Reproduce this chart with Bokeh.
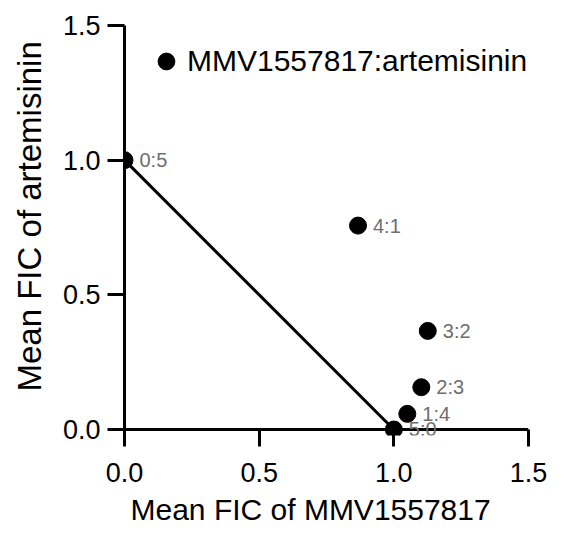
from bokeh.plotting import figure
from bokeh.models import (ColumnDataSource, Legend, LegendItem, Range1d, FixedTicker,
                          LabelSet, Title, Span)
from bokeh.embed import file_html
from bokeh.resources import INLINE
from bokeh.core.properties import value

# ---- data ----
ratios = ["0:5", "4:1", "3:2", "2:3", "1:4", "5:0"]
fic_mmv = [0.0, 0.867, 1.126, 1.102, 1.050, 1.0]
fic_art = [1.0, 0.757, 0.366, 0.157, 0.058, 0.0]
additivity_x = [0.0, 1.0]
additivity_y = [1.0, 0.0]
tick_values = [0.0, 0.5, 1.0, 1.5]
tick_labels = ["0.0", "0.5", "1.0", "1.5"]
series_name = "MMV1557817:artemisinin"
x_title = "Mean FIC of MMV1557817"
y_title = "Mean FIC of artemisinin"

FONT = "Liberation Sans"
Y_START = -0.0223   # small room below y = 0 so the "5:0" label is not cut

p = figure(width=567, height=533, output_backend="svg", toolbar_location=None,
           x_range=Range1d(0, 1.5), y_range=Range1d(Y_START, 1.5),
           min_border_left=122, min_border_right=39, min_border_top=25, min_border_bottom=98)
p.outline_line_color = None
p.grid.visible = False
p.background_fill_color = "white"
p.border_fill_color = "white"

for ax in (p.xaxis[0], p.yaxis[0]):
    ax.ticker = FixedTicker(ticks=tick_values)
    ax.major_label_overrides = {v: s for v, s in zip(tick_values, tick_labels)}
    ax.minor_tick_line_color = None
    ax.axis_line_width = 3
    ax.axis_line_color = "black"
    ax.major_tick_line_width = 3
    ax.major_tick_line_color = "black"
    ax.major_label_text_font = FONT
    ax.major_label_text_font_size = "27px"
    ax.major_label_text_color = "black"

# y axis: ticks outward
p.yaxis[0].major_tick_out = 17
p.yaxis[0].major_tick_in = 0
p.yaxis[0].major_label_standoff = 7
# x axis: its line is drawn at y = 0 by a Span; ticks reach from y = 0 downward
p.xaxis[0].axis_line_color = None
p.xaxis[0].major_tick_in = 6
p.xaxis[0].major_tick_out = 11
p.xaxis[0].major_label_standoff = 16
p.add_layout(Span(location=0, dimension="width", line_color="black", line_width=3))

xt = Title(text=x_title, align="left", offset=6, standoff=12,
           text_font=FONT, text_font_size="30px", text_font_style="normal",
           text_color="black", vertical_align="bottom")
p.add_layout(xt, "below")
yt = Title(text=y_title, align="left", offset=44, standoff=20,
           text_font=FONT, text_font_size="33px", text_font_style="normal",
           text_color="black", vertical_align="top")
p.add_layout(yt, "left")

# additivity line
p.line(additivity_x, additivity_y, line_color="black", line_width=3)

src = ColumnDataSource(dict(x=fic_mmv, y=fic_art, label=ratios))
r = p.scatter("x", "y", source=src, size=17, marker="circle",
              fill_color="black", line_color="black")
labels = LabelSet(x="x", y="y", text="label", source=src, x_offset=15, y_offset=0,
                  text_font=value(FONT), text_font_size=value("20px"),
                  text_color=value("#6e6e6e"),
                  text_baseline="middle", text_align="left")
p.add_layout(labels)

legend = Legend(items=[LegendItem(label=series_name, renderers=[r])],
                location=(21, 352), margin=0, padding=0,
                glyph_width=42, glyph_height=44, label_standoff=0,
                label_text_font=FONT, label_text_font_size="30px",
                label_text_color="black", border_line_color=None,
                background_fill_alpha=0)
p.add_layout(legend)

open("out.html", "w").write(file_html(p, INLINE))
